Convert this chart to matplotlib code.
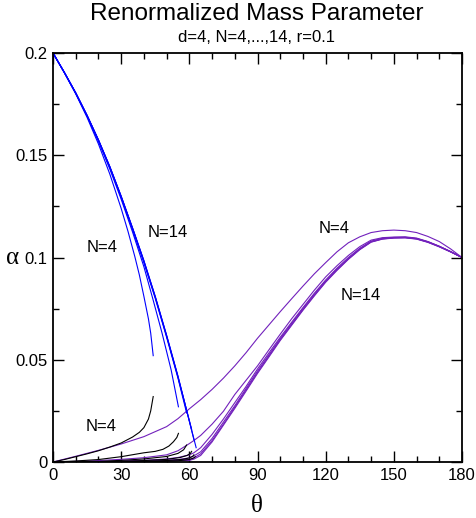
import matplotlib
matplotlib.use("Agg")
import matplotlib.pyplot as plt
from matplotlib.ticker import MultipleLocator, FixedLocator

# ---------------- data ----------------
N_values = [4, 6, 8, 10, 12, 14]

# blue branch: alpha decreasing from 0.2 up to critical theta
blue_theta = {
    4:  [0, 5, 10, 15, 20, 25, 30, 33, 36, 38, 40, 42, 43, 44.1],
    6:  [0, 5, 10, 15, 20, 25, 30, 35, 40, 44, 48, 52, 55.2],
    8:  [0, 5, 10, 15, 20, 25, 30, 35, 40, 45, 50, 55, 58.8],
    10: [0, 5, 10, 15, 20, 25, 30, 35, 40, 45, 50, 55, 59, 61],
    12: [0, 5, 10, 15, 20, 25, 30, 35, 40, 45, 50, 55, 60, 62],
    14: [0, 5, 10, 15, 20, 25, 30, 35, 40, 45, 50, 55, 60, 63],
}
blue_alpha = {
    4:  [0.2, 0.1903, 0.1800, 0.1685, 0.1555, 0.1408, 0.1240, 0.1128, 0.1005, 0.0915, 0.081, 0.070, 0.063, 0.052],
    6:  [0.2, 0.1904, 0.1803, 0.1691, 0.1568, 0.1433, 0.1285, 0.1125, 0.0955, 0.0795, 0.063, 0.045, 0.027],
    8:  [0.2, 0.1905, 0.1804, 0.1693, 0.1572, 0.1440, 0.1294, 0.1138, 0.0975, 0.080, 0.061, 0.041, 0.024],
    10: [0.2, 0.1905, 0.1805, 0.1694, 0.1574, 0.1443, 0.1297, 0.1142, 0.098, 0.0805, 0.0615, 0.0415, 0.0245, 0.016],
    12: [0.2, 0.1905, 0.1805, 0.1695, 0.1575, 0.1444, 0.1299, 0.1144, 0.0983, 0.0808, 0.0618, 0.0418, 0.0200, 0.011],
    14: [0.2, 0.1905, 0.1805, 0.1695, 0.1575, 0.1445, 0.1300, 0.1145, 0.0985, 0.081, 0.062, 0.042, 0.020, 0.007],
}

# black branch: alpha rising from 0 up to critical theta
black_theta = {
    4:  [0, 5, 10, 15, 20, 25, 30, 35, 38, 40, 42, 43, 44.1],
    6:  [0, 10, 20, 30, 40, 45, 48.4, 51, 53, 54.5, 55.2],
    8:  [0, 20, 30, 40, 50, 55, 57.5, 58.8],
    10: [0, 30, 40, 50, 56, 59, 60.5, 61],
    12: [0, 40, 50, 57, 60, 61.5, 62],
    14: [0, 45, 55, 60, 62, 62.6],
}
black_alpha = {
    4:  [0, 0.0012, 0.0026, 0.004, 0.0055, 0.0073, 0.0093, 0.0122, 0.0145, 0.0168, 0.021, 0.025, 0.032],
    6:  [0, 0.0005, 0.0012, 0.0026, 0.0045, 0.0052, 0.0062, 0.0078, 0.0099, 0.012, 0.014],
    8:  [0, 0.0003, 0.0008, 0.0015, 0.0027, 0.0042, 0.006, 0.0083],
    10: [0, 0.0003, 0.0007, 0.0013, 0.0022, 0.0032, 0.0042, 0.0052],
    12: [0, 0.0003, 0.0007, 0.0013, 0.002, 0.0028, 0.0035],
    14: [0, 0.0002, 0.0006, 0.0012, 0.002, 0.0026],
}

# purple (indigo) curves over the whole range
purple_theta = [0, 10, 20, 30, 40, 50, 55, 60, 62, 65, 70, 75, 80, 85, 90, 95,
                100, 105, 110, 115, 120, 125, 130, 135, 140, 145, 150, 155,
                160, 165, 170, 175, 180]
purple_alpha = {
    4:  [0, 0.0028, 0.0057, 0.0088, 0.0124, 0.0173, 0.0212, 0.026, 0.0278, 0.0305, 0.0355, 0.041, 0.047, 0.0535,
         0.0605, 0.067, 0.0735, 0.0798, 0.086, 0.092, 0.0975, 0.1028, 0.1072, 0.1101, 0.1122, 0.1131, 0.1134,
         0.1131, 0.1122, 0.1103, 0.1078, 0.1042, 0.1],
    6:  [0, 0.0003, 0.0007, 0.0013, 0.0021, 0.0035, 0.0055, 0.009, 0.0105, 0.013, 0.0185, 0.0248, 0.033, 0.040,
         0.047, 0.0548, 0.0625, 0.070, 0.077, 0.084, 0.0905, 0.096, 0.101, 0.1053, 0.1085, 0.1097, 0.1100,
         0.1101, 0.1095, 0.1078, 0.1055, 0.1029, 0.1],
    8:  [0, 0.0001, 0.0002, 0.0005, 0.0008, 0.0015, 0.0022, 0.0035, 0.0045, 0.007, 0.0135, 0.021, 0.029, 0.037,
         0.0455, 0.0533, 0.061, 0.0683, 0.0755, 0.0825, 0.089, 0.0948, 0.100, 0.1045, 0.108, 0.1094, 0.1098,
         0.1099, 0.1093, 0.1077, 0.1055, 0.1029, 0.1],
    10: [0, 0.0, 0.0001, 0.0002, 0.0004, 0.0008, 0.0012, 0.002, 0.003, 0.005, 0.0115, 0.0195, 0.0275, 0.036,
         0.0445, 0.0524, 0.0603, 0.0677, 0.075, 0.082, 0.0885, 0.0943, 0.0995, 0.1042, 0.1078, 0.1092, 0.1097,
         0.1098, 0.1092, 0.1076, 0.1054, 0.1028, 0.1],
    12: [0, 0.0, 0.0001, 0.0002, 0.0004, 0.0007, 0.001, 0.0012, 0.002, 0.004, 0.0105, 0.0185, 0.0268, 0.0353,
         0.0438, 0.0518, 0.0598, 0.0672, 0.0745, 0.0815, 0.0882, 0.094, 0.0993, 0.104, 0.1076, 0.1091, 0.1096,
         0.1097, 0.1091, 0.1075, 0.1053, 0.1028, 0.1],
    14: [0, 0.0, 0.0001, 0.0002, 0.0003, 0.0005, 0.0007, 0.0008, 0.0014, 0.0032, 0.0098, 0.018, 0.0262, 0.0347,
         0.0433, 0.0513, 0.0594, 0.0668, 0.0742, 0.0812, 0.0879, 0.0937, 0.0991, 0.1038, 0.1075, 0.109, 0.1095,
         0.1096, 0.1090, 0.1074, 0.1052, 0.1027, 0.1],
}

x_ticks = [0, 30, 60, 90, 120, 150, 180]
y_ticks = [0, 0.05, 0.1, 0.15, 0.2]
y_tick_labels = ["0", "0.05", "0.1", "0.15", "0.2"]

labels = [("N=4", 21.6, 0.1047), ("N=14", 50.6, 0.112),
          ("N=4", 123.7, 0.1144), ("N=14", 135.5, 0.0812),
          ("N=4", 21.1, 0.0176)]

# ---------------- figure ----------------
plt.rcParams['font.family'] = ['Liberation Sans', 'DejaVu Sans']
W, H = 477, 518
fig = plt.figure(figsize=(W / 100, H / 100), dpi=100)
ax = fig.add_axes([53 / W, 56 / H, 409 / W, 409 / H])

BLUE = "#0000FF"
PURPLE = "#7221BC"
lw = 0.8
for n in N_values:
    ax.plot(purple_theta, purple_alpha[n], color=PURPLE, lw=lw)
for n in N_values:
    ax.plot(black_theta[n], black_alpha[n], color="black", lw=lw)
for n in N_values:
    ax.plot(blue_theta[n], blue_alpha[n], color=BLUE, lw=lw)

ax.set_xlim(0, 180)
ax.set_ylim(0, 0.2)
ax.xaxis.set_major_locator(FixedLocator(x_ticks))
ax.xaxis.set_minor_locator(MultipleLocator(10))
ax.yaxis.set_major_locator(FixedLocator(y_ticks))
ax.yaxis.set_minor_locator(MultipleLocator(0.025))
ax.set_yticklabels(y_tick_labels)
ax.tick_params(which='both', direction='in', top=True, right=True, labelsize=12, width=1)
ax.tick_params(which='major', length=8, pad=4)
ax.tick_params(which='minor', length=4.5)
for sp in ax.spines.values():
    sp.set_linewidth(1.3)

for txt, x, y in labels:
    ax.text(x, y, txt, ha='center', va='center', fontsize=12)

serif = ['Liberation Serif', 'DejaVu Serif']
fig.text(257 / W, 1 - 506 / H, "θ", ha='center', va='center', fontsize=18, family=serif)
fig.text(13 / W, 1 - 258 / H, "α", ha='center', va='center', fontsize=18, family=serif)

fig.text(257 / W, 1 - 14 / H, "Renormalized Mass Parameter", ha='center', va='center', fontsize=17.5)
fig.text(257 / W, 1 - 37 / H, "d=4, N=4,...,14, r=0.1", ha='center', va='center', fontsize=12)

fig.savefig("out.png", dpi=100)
